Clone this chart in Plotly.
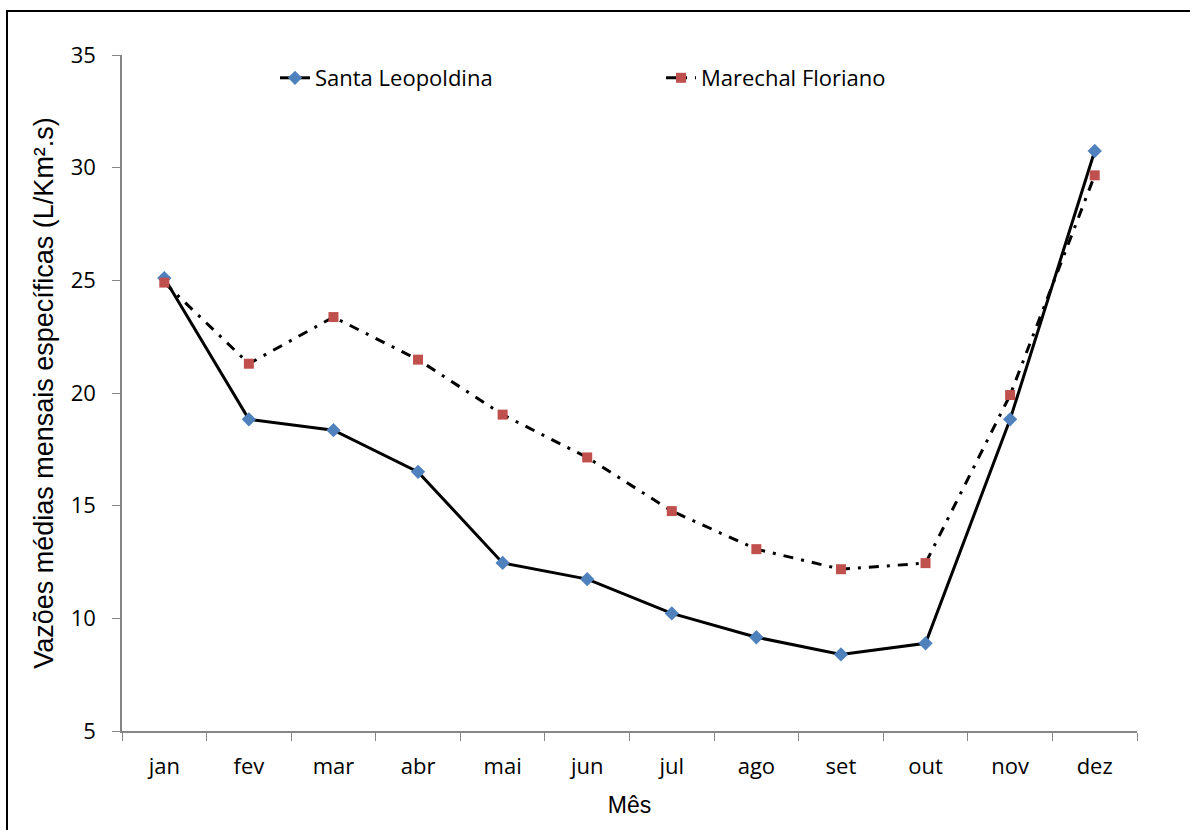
import plotly.graph_objects as go

meses = ["jan", "fev", "mar", "abr", "mai", "jun", "jul", "ago", "set", "out", "nov", "dez"]
santa_leopoldina = [25.1, 18.83, 18.35, 16.5, 12.46, 11.74, 10.22, 9.16, 8.4, 8.89, 18.83, 30.74]
marechal_floriano = [24.9, 21.3, 23.37, 21.48, 19.04, 17.14, 14.76, 13.07, 12.18, 12.45, 19.91, 29.66]
y_ticks = [5, 10, 15, 20, 25, 30, 35]

fig = go.Figure()
fig.add_trace(go.Scatter(
    x=meses, y=santa_leopoldina, name="Santa Leopoldina", mode="lines+markers",
    line=dict(color="black", width=3),
    marker=dict(symbol="diamond", color="#4F81BD", size=11),
))
fig.add_trace(go.Scatter(
    x=meses, y=marechal_floriano, name="Marechal Floriano", mode="lines+markers",
    line=dict(color="black", width=3, dash="10px,8px,3px,8px"),
    marker=dict(symbol="square", color="#C0504D", size=10),
))

L, R, T, B = 122, 53, 55, 99
W, H = 1190, 830
pw, ph = W - L - R, H - T - B

tick_font = dict(family="Open Sans, Noto Sans, sans-serif", size=22, color="black")

fig.update_layout(
    width=W, height=H,
    margin=dict(l=L, r=R, t=T, b=B),
    paper_bgcolor="white", plot_bgcolor="white",
    font=dict(family="Open Sans, Noto Sans, sans-serif", size=22, color="black"),
    showlegend=True,
    legend=dict(
        orientation="h", x=(275 - L) / pw, xanchor="left",
        y=1 - (78 - T) / ph, yanchor="middle",
        entrywidth=341, entrywidthmode="pixels",
        font=dict(family="Open Sans, Noto Sans, sans-serif", size=22),
        bgcolor="rgba(0,0,0,0)",
    ),
    xaxis=dict(
        type="category", categoryorder="array", categoryarray=meses,
        range=[-0.5, len(meses) - 0.5],
        tickson="boundaries", ticks="outside", ticklen=8, tickcolor="#868686",
        showline=True, linecolor="#868686", linewidth=1.5,
        showgrid=False, zeroline=False,
        tickfont=tick_font, ticklabelstandoff=15,
        title=dict(text="Mês", font=dict(family="Liberation Sans, Arial, sans-serif", size=23), standoff=18),
    ),
    yaxis=dict(
        range=[5, 35], tickvals=y_ticks, ticks="outside", ticklen=8, tickcolor="#868686",
        showline=True, linecolor="#868686", linewidth=1.5,
        showgrid=False, zeroline=False,
        tickfont=tick_font, ticklabelstandoff=12,
        title=dict(text="Vazões médias mensais específicas (L/Km².s)",
                   font=dict(family="Liberation Sans, Arial, sans-serif", size=27), standoff=9),
    ),
)

# outer chart frame
fig.add_shape(
    type="rect", xref="paper", yref="paper",
    x0=(7 - L) / pw, x1=(1195 - L) / pw,
    y0=-(835 - (T + ph)) / ph, y1=1 + (T - 11) / ph,
    line=dict(color="black", width=2), fillcolor="rgba(0,0,0,0)", layer="below",
)

fig.write_html("out.html", config={"displayModeBar": False},
               post_script="document.body.style.margin='0';")
